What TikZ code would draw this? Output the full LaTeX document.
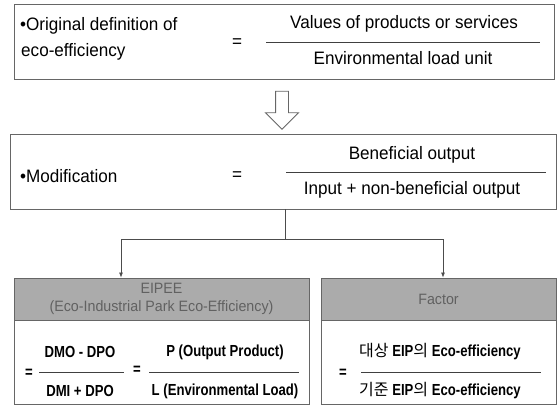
\documentclass[tikz,border=0pt]{standalone}
\usepackage{fontspec}
\setmainfont[FakeStretch=0.95]{Liberation Sans}
\newfontfamily\condbold[FakeStretch=0.82]{Liberation Sans}
\newfontfamily\krfont{Noto Sans CJK KR}
\usetikzlibrary{positioning}
\usetikzlibrary{shapes.arrows}
\usetikzlibrary{arrows.meta}
\tikzset{
    mybox/.style = {rectangle, draw=black!60, line width=0.9pt, inner sep=0pt},
    myhead/.style = {rectangle, draw=black!60, line width=0.9pt, fill=black!33, align=center, text=black!62, font=\fontsize{15}{18}\selectfont},
    mytext/.style = {inner sep=1pt, font=\fontsize{18}{20}\selectfont},
    mybold/.style = {inner sep=1pt, font=\fontsize{16}{18}\condbold\bfseries},
    fracline/.style = {-, line width=0.9pt, black!75},
    edgen/.style = {-, line width=0.7pt, black!70},
    edgea/.style = {-{Latex[length=5pt,width=4pt]}, line width=0.7pt, black!70},
    hollow/.style = {single arrow, draw=black!60, line width=0.9pt, shape border rotate=270, inner sep=6pt, single arrow head extend=10pt, minimum height=38pt}
}
\begin{document}
\begin{tikzpicture}[x=1pt,y=-1pt]
\useasboundingbox (0,0) rectangle (559,406);
%
\node[mybox, minimum width=540pt, minimum height=75pt] at (284, 42) (orig) {};
\node[mybox, minimum width=546pt, minimum height=75pt] at (283, 171.5) (modif) {};
\node[myhead, minimum width=295pt, minimum height=42pt] at (161.5, 299) (eipee) {EIPEE\\(Eco-Industrial Park Eco-Efficiency)};
\node[mybox, minimum width=295pt, minimum height=84pt, anchor=north] at (eipee.south) (eipeebody) {};
\node[myhead, minimum width=235pt, minimum height=42pt] at (438.5, 299) (factor) {Factor};
\node[mybox, minimum width=235pt, minimum height=84pt, anchor=north] at (factor.south) (factorbody) {};
%
\node[hollow] at (282, 107) (down) {};
%
% original definition
\node[mytext, anchor=west] at (19, 26) (origa) {•Original definition of};
\node[mytext, anchor=west] at (20, 52) (origb) {eco-efficiency};
\node[mytext] at (237, 43) (origeq) {=};
\node[mytext] at (404, 24) (orignum) {Values of products or services};
\node[mytext] at (403, 58) (origden) {Environmental load unit};
\coordinate (ol) at (266, 42);
\coordinate (or) at (540, 42);
\draw[fracline] (ol) -- (or);
%
% modification
\node[mytext, anchor=west] at (19, 176) (moda) {•Modification};
\node[mytext] at (237, 176) (modeq) {=};
\node[mytext] at (412, 155) (modnum) {Beneficial output};
\node[mytext] at (412, 190) (modden) {Input + non-beneficial output};
\coordinate (ml) at (286, 172);
\coordinate (mr) at (546, 172);
\draw[fracline] (ml) -- (mr);
%
% EIPEE
\node[mybold] at (29, 373) (eqa) {=};
\node[mybold] at (80, 352) (dmo) {DMO - DPO};
\node[mybold] at (80, 391) (dmi) {DMI + DPO};
\coordinate (al) at (39, 372);
\coordinate (ar) at (124, 372);
\draw[fracline] (al) -- (ar);
\node[mybold] at (137, 370) (eqb) {=};
\node[mybold] at (225, 352) (prod) {P (Output Product)};
\node[mybold] at (225, 391) (load) {L (Environmental Load)};
\coordinate (bl) at (149, 372);
\coordinate (br) at (299, 372);
\draw[fracline] (bl) -- (br);
%
% Factor
\node[mybold] at (343, 373) (eqc) {=};
\node[mybold] at (440, 352) (target) {{\krfont\mdseries 대상} EIP{\krfont\mdseries 의} Eco-efficiency};
\node[mybold] at (440, 391) (base) {{\krfont\mdseries 기준} EIP{\krfont\mdseries 의} Eco-efficiency};
\coordinate (cl) at (361, 372);
\coordinate (cr) at (541, 372);
\draw[fracline] (cl) -- (cr);
%
% connectors
\coordinate (split) at (285, 239);
\coordinate (la) at (121, 239);
\coordinate (ra) at (443, 239);
\draw[edgen] (modif.south -| split) -- (split);
\draw[edgen] (la) -- (ra);
\draw[edgea] (la) -- (la |- eipee.north);
\draw[edgea] (ra) -- (ra |- factor.north);
\end{tikzpicture}
\end{document}
